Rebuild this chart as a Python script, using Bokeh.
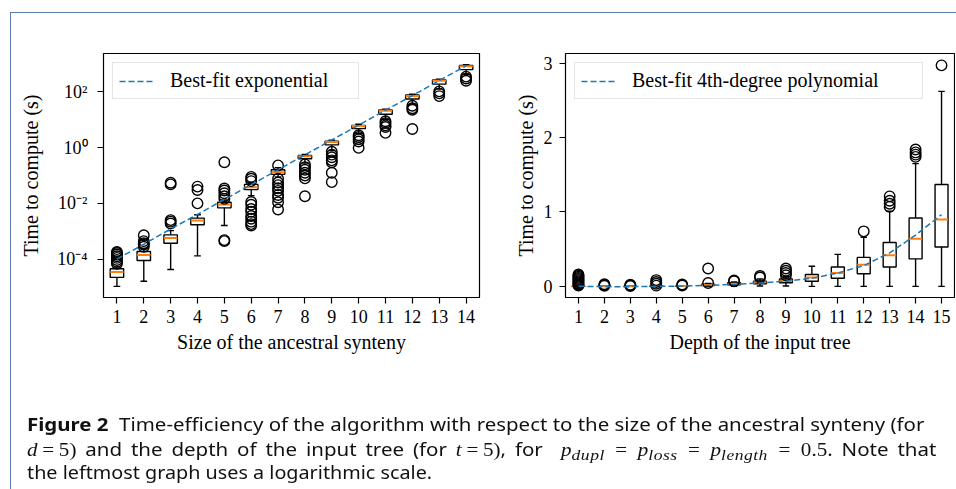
from bokeh.plotting import figure
from bokeh.models import Range1d, FixedTicker, CustomJSTickFormatter, Div
from bokeh.layouts import row, column
from bokeh.embed import file_html
from bokeh.resources import INLINE

# ---------------- data: left panel (size of ancestral synteny, log scale) ----------------
sizes = [1, 2, 3, 4, 5, 6, 7, 8, 9, 10, 11, 12, 13, 14]
syn_lo = [1.05e-5, 1.6e-5, 4.2e-5, 1.3e-4, 1.6e-3, 0.019, 0.089, 0.28, 0.79, 3.2, 10.5, 37, 126, 417]
syn_q1 = [2.2e-5, 8.9e-5, 3.7e-4, 1.7e-3, 6.9e-3, 0.031, 0.11, 0.40, 1.26, 4.8, 15.8, 56, 190, 631]
syn_med = [3.4e-5, 1.4e-4, 5.75e-4, 2.4e-3, 9.1e-3, 0.038, 0.13, 0.49, 1.58, 6.0, 20.9, 72, 251, 832]
syn_q3 = [4.5e-5, 1.86e-4, 7.4e-4, 2.95e-3, 0.011, 0.048, 0.16, 0.52, 1.7, 6.3, 22.4, 78, 269, 891]
syn_hi = [5.2e-5, 2.4e-4, 1.05e-3, 3.9e-3, 0.0132, 0.056, 0.19, 0.575, 1.86, 6.9, 24, 83, 288, 955]
syn_fliers = [
    [6.8e-5, 7.9e-5, 9.3e-5, 1.1e-4, 1.26e-4, 1.45e-4, 1.66e-4, 1.8e-4],
    [2.75e-4, 3.3e-4, 3.7e-4, 4.4e-4, 7.2e-4],
    [1.9e-3, 2.2e-3, 2.5e-3, 0.048, 0.055],
    [0.010, 0.030, 0.040],
    [4.4e-4, 4.8e-4, 0.0145, 0.018, 0.023, 0.029, 0.034, 0.30],
    [1.6e-3, 1.8e-3, 2.2e-3, 2.8e-3, 3.5e-3, 5.0e-3, 6.3e-3, 8.9e-3, 0.0112, 0.063, 0.076, 0.089],
    [6.0e-3, 0.011, 0.016, 0.020, 0.028, 0.035, 0.045, 0.056, 0.076, 0.23],
    [0.018, 0.079, 0.10, 0.126, 0.16, 0.20, 0.25],
    [0.058, 0.126, 0.30, 0.35, 0.45, 0.56, 0.71],
    [0.98, 1.66, 2.0, 2.4, 2.8],
    [3.4, 5.5, 6.3, 7.6, 8.9],
    [4.7, 23, 26, 32],
    [71, 89, 105],
    [251, 302, 355],
]
syn_fit = [1.0e-4, 3.4e-4, 1.2e-3, 4.0e-3, 0.0138, 0.047, 0.16, 0.55, 1.9, 6.4, 22, 74, 255, 870]
syn_ticks_y = [1e-4, 1e-2, 1e0, 1e2]

# ---------------- data: right panel (depth of the input tree) ----------------
depths = [1, 2, 3, 4, 5, 6, 7, 8, 9, 10, 11, 12, 13, 14, 15]
dep_lo = [0, 0, 0, 0, 0, 0, 0.003, 0.005, 0.005, 0, 0, 0, 0, 0, 0]
dep_q1 = [0.0, 0.0, 0.0, 0.0, 0.001, 0.01, 0.022, 0.035, 0.05, 0.07, 0.11, 0.17, 0.26, 0.37, 0.53]
dep_med = [0.001, 0.001, 0.001, 0.002, 0.004, 0.02, 0.035, 0.055, 0.075, 0.12, 0.18, 0.29, 0.42, 0.64, 0.90]
dep_q3 = [0.003, 0.003, 0.003, 0.005, 0.007, 0.03, 0.05, 0.07, 0.10, 0.16, 0.26, 0.39, 0.59, 0.92, 1.37]
dep_hi = [0.007, 0.006, 0.005, 0.008, 0.01, 0.04, 0.06, 0.10, 0.13, 0.27, 0.43, 0.66, 1.01, 1.65, 2.62]
dep_fliers = [
    [0.012, 0.025, 0.04, 0.055, 0.07, 0.085, 0.10, 0.115, 0.13, 0.145, 0.16],
    [0.008, 0.018, 0.028],
    [0.006, 0.014, 0.022],
    [0.01, 0.035, 0.06, 0.085],
    [0.012, 0.025],
    [0.045, 0.24],
    [0.07, 0.08],
    [0.12, 0.14],
    [0.15, 0.18, 0.21, 0.24],
    [],
    [],
    [0.74],
    [1.07, 1.11, 1.15, 1.21],
    [1.74, 1.77, 1.80, 1.84],
    [2.97],
]
dep_fit = [0.002, -0.003, -0.003, 0.0, 0.004, 0.013, 0.027, 0.046, 0.07, 0.11, 0.18, 0.28, 0.45, 0.69, 0.965]
dep_ticks_y = [0, 1, 2, 3]

# ---------------- styling ----------------
SERIF = "Liberation Serif"
BLUE = "#1f77b4"
ORANGE = "#ff7f0e"
BOX_W = 0.5
CAP_W = 0.25


def style(p, xlabel, ylabel, tick_standoff_y, label_standoff_y):
    p.outline_line_color = "black"
    p.outline_line_width = 1.2
    p.outline_line_alpha = 1.0
    p.xgrid.visible = False
    p.ygrid.visible = False
    for ax in (p.xaxis[0], p.yaxis[0]):
        ax.axis_line_color = None
        ax.major_tick_line_color = "black"
        ax.major_tick_line_width = 1.2
        ax.major_tick_out = 6
        ax.major_tick_in = 0
        ax.minor_tick_line_color = None
        ax.major_label_text_font = SERIF
        ax.major_label_text_font_size = "18px"
        ax.major_label_text_color = "black"
        ax.axis_label_text_font = SERIF
        ax.axis_label_text_font_size = "20px"
        ax.axis_label_text_font_style = "normal"
        ax.axis_label_text_color = "black"
    p.xaxis.axis_label = xlabel
    p.yaxis.axis_label = ylabel
    p.xaxis.major_label_standoff = 6
    p.xaxis.axis_label_standoff = 5
    p.yaxis.major_label_standoff = tick_standoff_y
    p.yaxis.axis_label_standoff = label_standoff_y


def boxplot(p, xs, lo, q1, med, q3, hi, fliers):
    p.segment(x0=xs, y0=lo, x1=xs, y1=q1, line_color="black", line_width=1.4)
    p.segment(x0=xs, y0=q3, x1=xs, y1=hi, line_color="black", line_width=1.4)
    p.segment(x0=[x - CAP_W / 2 for x in xs], y0=lo, x1=[x + CAP_W / 2 for x in xs], y1=lo,
              line_color="black", line_width=1.4)
    p.segment(x0=[x - CAP_W / 2 for x in xs], y0=hi, x1=[x + CAP_W / 2 for x in xs], y1=hi,
              line_color="black", line_width=1.4)
    p.vbar(x=xs, width=BOX_W, bottom=q1, top=q3, fill_color="white",
           line_color="black", line_width=1.4)
    p.segment(x0=[x - BOX_W / 2 for x in xs], y0=med, x1=[x + BOX_W / 2 for x in xs], y1=med,
              line_color=ORANGE, line_width=2)
    fx, fy = [], []
    for x, fl in zip(xs, fliers):
        fx += [x] * len(fl)
        fy += fl
    p.scatter(x=fx, y=fy, marker="circle", size=10.5, fill_color=None,
              line_color="black", line_width=1.4)


def legend_style(p, label_width):
    lg = p.legend[0]
    lg.location = "top_left"
    lg.margin = 9
    lg.padding = 6
    lg.spacing = 0
    lg.glyph_width = 36
    lg.glyph_height = 20
    lg.label_height = 20
    lg.label_standoff = 15
    lg.label_width = label_width
    lg.label_text_font = SERIF
    lg.label_text_font_size = "20px"
    lg.label_text_color = "black"
    lg.border_line_color = "#cccccc"
    lg.border_line_width = 1.2
    lg.background_fill_color = "white"
    lg.background_fill_alpha = 0.8


# ---------------- left figure ----------------
p1 = figure(output_backend="svg", toolbar_location=None, y_axis_type="log",
            frame_width=376, frame_height=244,
            min_border_left=103, min_border_right=5, min_border_top=53, min_border_bottom=63,
            x_range=Range1d(0.5, 14.5), y_range=Range1d(10 ** -5.38, 10 ** 3.38))
boxplot(p1, sizes, syn_lo, syn_q1, syn_med, syn_q3, syn_hi, syn_fliers)
p1.line(sizes, syn_fit, line_color=BLUE, line_width=1.5, line_dash="6 3",
        legend_label="Best-fit exponential")
style(p1, "Size of the ancestral synteny", "Time to compute (s)", 10, 12)
p1.xaxis.ticker = FixedTicker(ticks=sizes, minor_ticks=[])
p1.yaxis.ticker = FixedTicker(ticks=syn_ticks_y, minor_ticks=[])
p1.yaxis.formatter = CustomJSTickFormatter(code="""
const sup = {"-": "\u207b", "0": "\u2070", "1": "\u00b9", "2": "\u00b2", "3": "\u00b3",
             "4": "\u2074", "5": "\u2075", "6": "\u2076", "7": "\u2077", "8": "\u2078", "9": "\u2079"};
const e = Math.round(Math.log10(tick));
return "10" + String(e).split("").map(c => sup[c]).join("");
""")
legend_style(p1, 182)

# ---------------- right figure ----------------
p2 = figure(output_backend="svg", toolbar_location=None,
            frame_width=389, frame_height=244,
            min_border_left=81, min_border_right=1, min_border_top=53, min_border_bottom=63,
            x_range=Range1d(0.5, 15.5), y_range=Range1d(-0.149, 3.129))
boxplot(p2, depths, dep_lo, dep_q1, dep_med, dep_q3, dep_hi, dep_fliers)
p2.line(depths, dep_fit, line_color=BLUE, line_width=1.5, line_dash="6 3",
        legend_label="Best-fit 4th-degree polynomial")
style(p2, "Depth of the input tree", "Time to compute (s)", 7, 4)
p2.xaxis.ticker = FixedTicker(ticks=depths, minor_ticks=[])
p2.yaxis.ticker = FixedTicker(ticks=dep_ticks_y, minor_ticks=[])
legend_style(p2, 284)

# ---------------- caption ----------------
M = "font-family:'Liberation Serif',serif;font-size:18px;"
EQS = "<span style=\"margin:0 4px\">=</span>"
EQ = "<span style=\"margin:0 9px\">=</span>"
SUB = "<span style=\"position:relative;top:4px;font-size:15px;letter-spacing:0.4px\">"
LINE = ("<div style=\"height:24px;line-height:24px;white-space:nowrap;transform-origin:0 0;"
        "transform:scaleX({sx});word-spacing:{ws}px;margin-top:{mt}px\">")
caption_html = (
    "<div style=\"position:fixed;left:10px;top:12px;width:1000px;height:600px;"
    "border-top:1px solid #5a7cae;border-left:1px solid #5a7cae;pointer-events:none\"></div>"
    "<div style=\"font-family:'Noto Sans',sans-serif;font-size:17.5px;color:#111;\">"
    + LINE.format(sx=1.168, ws=0, mt=0)
    + "<b>Figure 2</b>&nbsp; Time-efficiency of the algorithm with respect to the size of the "
    "ancestral synteny (for</div>"
    + LINE.format(sx=1.172, ws=3, mt=1)
    + f"<span style=\"{M}\"><i>d</i>{EQS}5)</span> and the depth of the input tree (for "
    f"<span style=\"{M}\"><i>t</i>{EQS}5)</span>, for "
    f"<span style=\"{M}margin-left:8px\"><i>p</i>{SUB}<i>dupl</i></span>{EQ}"
    f"<i>p</i>{SUB}<i>loss</i></span>{EQ}"
    f"<i>p</i>{SUB}<i>length</i></span>{EQ}0.5</span>. Note that</div>"
    + LINE.format(sx=1.13, ws=0, mt=-1)
    + "the leftmost graph uses a logarithmic scale.</div>"
    "</div>"
)
cap = Div(text=caption_html, width=800, height=118,
          styles={"padding-left": "22px", "padding-top": "47px", "overflow": "visible"})

layout = column(row(p1, p2), cap)

with open("out.html", "w", encoding="utf-8") as f:
    f.write(file_html(layout, INLINE))
